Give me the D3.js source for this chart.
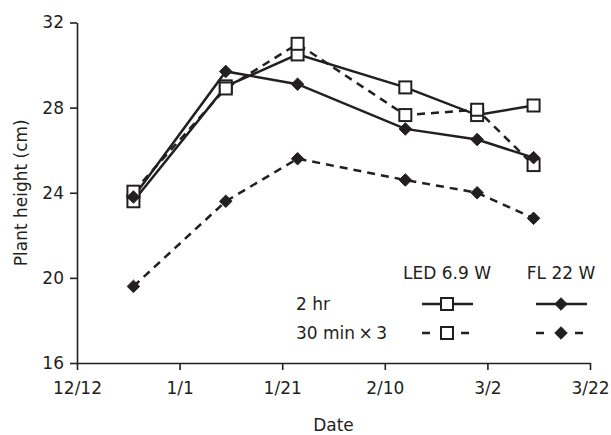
<!DOCTYPE html>
<html>
<head>
<meta charset="utf-8">
<script src="https://cdn.jsdelivr.net/npm/d3@7"></script>
<style>
  body { margin: 0; background: #fff; }
  svg text { font-family: "DejaVu Sans", Verdana, sans-serif; fill: #231f20; }
  .axis path, .axis line { stroke: #231f20; stroke-width: 1.6; }
  .axis text { font-size: 17px; }
</style>
</head>
<body>
<svg id="chart" width="611" height="435"></svg>
<script>
"use strict";

// sampling dates and plant heights (cm)
let dates = ["2013-12-23", "2014-01-10", "2014-01-24", "2014-02-14", "2014-02-28", "2014-03-11"];
let led2hr = [23.6, 29.0, 30.5, 28.95, 27.65, 28.1];
let led30x3 = [24.05, 28.9, 31.0, 27.65, 27.9, 25.3];
let fl2hr = [23.8, 29.7, 29.1, 27.0, 26.5, 25.65];
let fl30x3 = [19.6, 23.6, 25.6, 24.6, 24.0, 22.8];

let xTicks = ["2013-12-12", "2014-01-01", "2014-01-21", "2014-02-10", "2014-03-02", "2014-03-22"];
let yTicks = [16, 20, 24, 28, 32];

let series = [
  { name: "LED 2 hr", values: led2hr, marker: "square", dashed: false },
  { name: "LED 30 min x 3", values: led30x3, marker: "square", dashed: true },
  { name: "FL 2 hr", values: fl2hr, marker: "diamond", dashed: false },
  { name: "FL 30 min x 3", values: fl30x3, marker: "diamond", dashed: true },
];

let parse = d3.timeParse("%Y-%m-%d");
let ink = "#231f20";

let svg = d3.select("#chart");

let x = d3.scaleTime()
  .domain([parse(xTicks[0]), parse(xTicks[xTicks.length - 1])])
  .range([77, 590]);
let y = d3.scaleLinear()
  .domain([16, 32])
  .range([363, 22.5]);

// axes
svg.append("g")
  .attr("class", "axis")
  .attr("transform", "translate(0," + y(16) + ")")
  .call(d3.axisBottom(x)
    .tickValues(xTicks.map(parse))
    .tickFormat(d3.timeFormat("%-m/%-d"))
    .tickSize(7)
    .tickSizeOuter(0)
    .tickPadding(12));

svg.append("g")
  .attr("class", "axis")
  .attr("transform", "translate(" + x.range()[0] + ",0)")
  .call(d3.axisLeft(y)
    .tickValues(yTicks)
    .tickSize(7)
    .tickSizeOuter(0)
    .tickPadding(6));

svg.append("text")
  .attr("x", (x.range()[0] + x.range()[1]) / 2)
  .attr("y", 425)
  .attr("text-anchor", "middle")
  .attr("dominant-baseline", "central")
  .style("font-size", "17px")
  .text("Date");

svg.append("text")
  .attr("transform", "translate(21," + y(24) + ") rotate(-90)")
  .attr("text-anchor", "middle")
  .attr("dominant-baseline", "central")
  .style("font-size", "17px")
  .text("Plant height (cm)");

// markers
function drawMarker(g, kind, cx, cy) {
  if (kind === "square") {
    g.append("rect")
      .attr("x", cx - 6)
      .attr("y", cy - 6)
      .attr("width", 12)
      .attr("height", 12)
      .attr("fill", "#fff")
      .attr("stroke", ink)
      .attr("stroke-width", 2);
  } else {
    g.append("path")
      .attr("d", d3.symbol(d3.symbolDiamond2, 100)())
      .attr("transform", "translate(" + cx + "," + cy + ")")
      .attr("fill", ink)
      .attr("stroke", ink)
      .attr("stroke-width", 1);
  }
}

let line = d3.line()
  .x((v, i) => x(parse(dates[i])))
  .y(v => y(v));

let linesG = svg.append("g").attr("class", "lines");
series.forEach(s => {
  linesG.append("path")
    .attr("d", line(s.values))
    .attr("fill", "none")
    .attr("stroke", ink)
    .attr("stroke-width", 2.5)
    .attr("stroke-dasharray", s.dashed ? "8,6" : null);
});

let markersG = svg.append("g").attr("class", "markers");
series.forEach(s => {
  s.values.forEach((v, i) => drawMarker(markersG, s.marker, x(parse(dates[i])), y(v)));
});

// legend
let legendG = svg.append("g").attr("class", "legend");
let colX = [447, 561];
let rowY = [304, 333];

legendG.append("text")
  .attr("x", colX[0]).attr("y", 273)
  .attr("text-anchor", "middle").attr("dominant-baseline", "central")
  .style("font-size", "17px")
  .text("LED 6.9 W");
legendG.append("text")
  .attr("x", colX[1]).attr("y", 273)
  .attr("text-anchor", "middle").attr("dominant-baseline", "central")
  .style("font-size", "17px")
  .text("FL 22 W");
legendG.append("text")
  .attr("x", 296).attr("y", rowY[0])
  .attr("dominant-baseline", "central")
  .style("font-size", "17px")
  .text("2 hr");
legendG.append("text")
  .attr("x", 296).attr("y", rowY[1])
  .attr("dominant-baseline", "central")
  .style("font-size", "17px")
  .text("30 min\u2009\u00d7\u20093");

series.forEach(s => {
  let cx = colX[s.marker === "square" ? 0 : 1];
  let cy = rowY[s.dashed ? 1 : 0];
  if (s.dashed) {
    legendG.append("line")
      .attr("x1", cx - 25).attr("x2", cx - 17)
      .attr("y1", cy).attr("y2", cy)
      .attr("stroke", ink).attr("stroke-width", 2.5);
    legendG.append("line")
      .attr("x1", cx + 14).attr("x2", cx + 22)
      .attr("y1", cy).attr("y2", cy)
      .attr("stroke", ink).attr("stroke-width", 2.5);
  } else {
    legendG.append("line")
      .attr("x1", cx - 25).attr("x2", cx + 26)
      .attr("y1", cy).attr("y2", cy)
      .attr("stroke", ink).attr("stroke-width", 2.5);
  }
  drawMarker(legendG, s.marker, cx, cy);
});
</script>
</body>
</html>
